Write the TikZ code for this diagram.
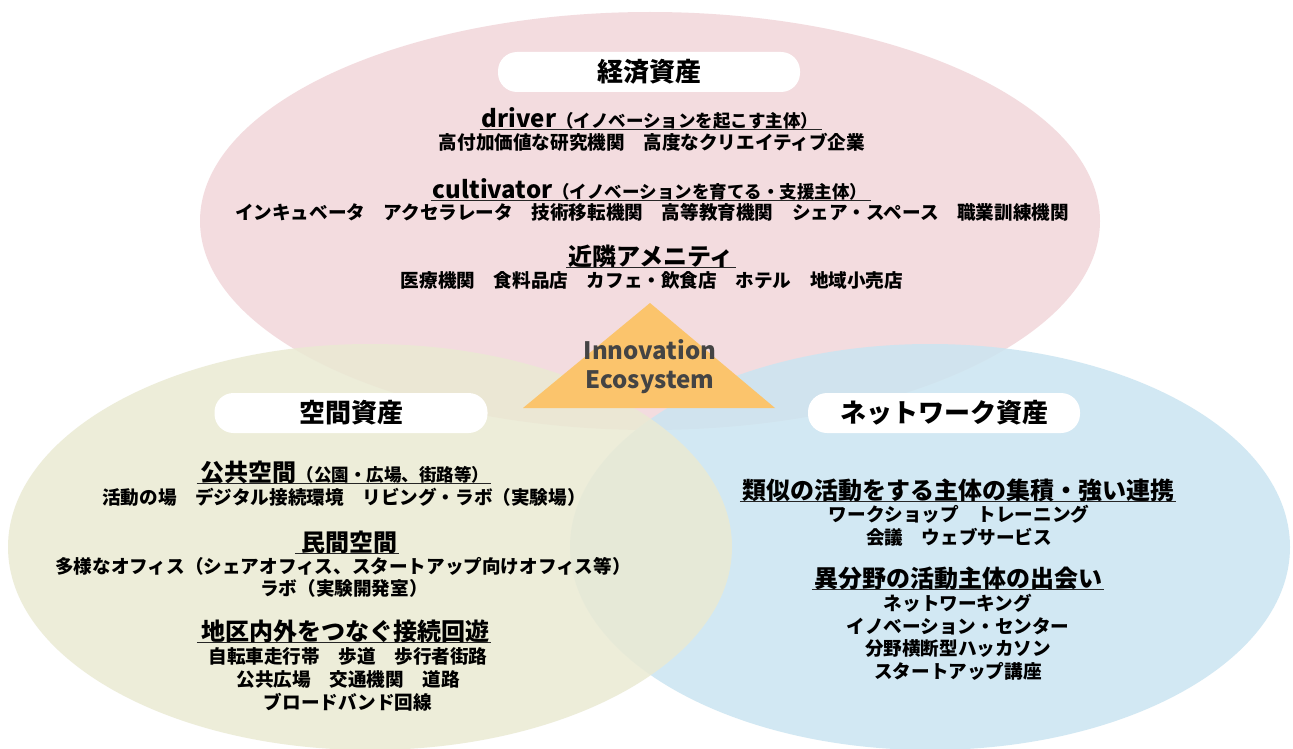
\documentclass[tikz,border=0pt]{standalone}
\usepackage{fontspec}
\setmainfont{Noto Sans CJK JP}
\definecolor{pinkfill}{RGB}{242,214,218}
\definecolor{greenfill}{RGB}{234,234,211}
\definecolor{bluefill}{RGB}{203,229,241}
\definecolor{orangefill}{RGB}{251,196,108}
\definecolor{greytext}{RGB}{68,68,68}
\tikzset{
  blob/.style={fill opacity=.85},
  labelbox/.style={fill=white, rounded corners=19pt, minimum height=40pt, inner sep=0pt,
    font=\bfseries\fontsize{26}{30}\selectfont},
  item/.style={inner sep=0pt, font=\bfseries\fontsize{18.6}{21}\selectfont},
  head/.style={inner sep=0pt, font=\bfseries\fontsize{24}{27}\selectfont},
  ul/.style={line width=1.1pt, black!85},
  innov/.style={inner sep=0pt, text=greytext, font=\bfseries\fontsize{24}{28}\selectfont}
}
\newcommand{\paren}[1]{{\fontsize{17.5}{20}\selectfont #1}}
\begin{document}
\begin{tikzpicture}[x=1pt,y=-1pt]
\useasboundingbox (0,0) rectangle (1293,749);
\fill[white] (0,0) rectangle (1293,749);
% circles
\fill[pinkfill, blob] (650,221) ellipse [x radius=450pt, y radius=209pt];
\fill[bluefill, blob] (930,547) ellipse [x radius=360pt, y radius=203pt];
\fill[greenfill, blob] (370,547) ellipse [x radius=362pt, y radius=203pt];
% triangle
\fill[orangefill] (650,303) -- (523,408) -- (775,408) -- cycle;
\node[innov] (inno) at (650,350) {Innovation};
\node[innov] (eco) at (650,382) {Ecosystem};

% labels
\node[labelbox, minimum width=302pt] (lab1) at (649,72) {経済資産};
\node[labelbox, minimum width=273pt] (lab2) at (351,413) {空間資産};
\node[labelbox, minimum width=272pt] (lab3) at (944,413) {ネットワーク資産};

% top
\node[head] (d1) at (650,118) {driver\paren{（イノベーションを起こす主体）}};
\draw[ul] ([xshift=-2pt]d1.south west) -- ([xshift=4pt]d1.south east);
\node[item] (d1i) at (652,142) {高付加価値な研究機関　高度なクリエイティブ企業};
\node[head] (c1) at (650,189) {cultivator\paren{（イノベーションを育てる・支援主体）}};
\draw[ul] ([xshift=-2pt]c1.south west) -- ([xshift=4pt]c1.south east);
\node[item] (c1i) at (652,212) {インキュベータ　アクセラレータ　技術移転機関　高等教育機関　シェア・スペース　職業訓練機関};
\node[head] (a1) at (651,256) {近隣アメニティ};
\draw[ul] ([xshift=-2pt]a1.south west) -- ([xshift=2pt]a1.south east);
\node[item] (a1i) at (652,280) {医療機関　食料品店　カフェ・飲食店　ホテル　地域小売店};

% left
\node[head] (p1) at (345,472) {公共空間\paren{（公園・広場、街路等）}};
\draw[ul] ([xshift=-4pt]p1.south west) -- ([xshift=2pt]p1.south east);
\node[item] (p1i) at (344,497) {活動の場　デジタル接続環境　リビング・ラボ（実験場）};
\node[head] (p2) at (349,542) {民間空間};
\draw[ul] ([xshift=-6pt]p2.south west) -- ([xshift=2pt]p2.south east);
\node[item] (p2i) at (343,566) {多様なオフィス（シェアオフィス、スタートアップ向けオフィス等）};
\node[item] (p2j) at (344,588) {ラボ（実験開発室）};
\node[head] (p3) at (345,631) {地区内外をつなぐ接続回遊};
\draw[ul] ([xshift=-4pt]p3.south west) -- ([xshift=2pt]p3.south east);
\node[item] (p3i) at (348,657) {自転車走行帯　歩道　歩行者街路};
\node[item] (p3j) at (348,679) {公共広場　交通機関　道路};
\node[item] (p3k) at (348,702) {ブロードバンド回線};

% right
\node[head] (n1) at (958,490) {類似の活動をする主体の集積・強い連携};
\draw[ul] ([xshift=-2pt]n1.south west) -- ([xshift=2pt]n1.south east);
\node[item] (n1i) at (959,514) {ワークショップ　トレーニング};
\node[item] (n1j) at (959,537) {会議　ウェブサービス};
\node[head] (n2) at (958,578) {異分野の活動主体の出会い};
\draw[ul] ([xshift=-2pt]n2.south west) -- ([xshift=2pt]n2.south east);
\node[item] (n2i) at (958,603) {ネットワーキング};
\node[item] (n2j) at (958,626) {イノベーション・センター};
\node[item] (n2k) at (958,649) {分野横断型ハッカソン};
\node[item] (n2l) at (958,671) {スタートアップ講座};
\end{tikzpicture}
\end{document}
